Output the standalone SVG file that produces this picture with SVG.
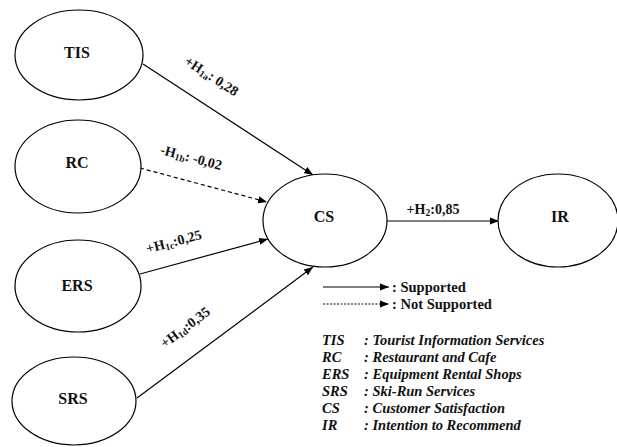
<svg xmlns="http://www.w3.org/2000/svg" width="617" height="447" viewBox="0 0 617 447">
<defs>
<marker id="ah" viewBox="0 0 10 10" refX="10" refY="5" markerWidth="9" markerHeight="9" markerUnits="userSpaceOnUse" orient="auto">
<path d="M0,1 L10,5 L0,9 Z" fill="#000"/>
</marker>
<style>
.n ellipse{fill:#fff;stroke:#000;stroke-width:1.2}
.n text{font-family:"Liberation Serif","Times New Roman",serif;font-weight:bold;font-size:16px;text-anchor:middle;fill:#111}
.c line{stroke:#000;stroke-width:1.2;marker-end:url(#ah)}
.c .d{stroke-dasharray:4,3}
.lbl{font-family:"Liberation Serif","Times New Roman",serif;font-weight:bold;font-size:14px;text-anchor:middle;fill:#111}
.lg{font-family:"Liberation Serif","Times New Roman",serif;font-weight:bold;font-size:14.5px;fill:#111}
.ab{font-family:"Liberation Serif","Times New Roman",serif;font-weight:bold;font-style:italic;font-size:14.5px;fill:#111}
</style>
</defs>
<rect width="617" height="447" fill="#fff"/>
<g class="c" id="connectors">
<line x1="143" y1="64" x2="313" y2="175"/>
<line class="d" x1="140" y1="168" x2="267" y2="202"/>
<line x1="140" y1="274" x2="268" y2="239"/>
<line x1="137" y1="398" x2="313" y2="267"/>
<line x1="387" y1="221" x2="499" y2="221"/>
</g>
<g id="TIS" class="n"><ellipse cx="79" cy="55" rx="64" ry="45"/><text x="77" y="58">TIS</text></g>
<g id="RC" class="n"><ellipse cx="78" cy="166.5" rx="63" ry="46.5"/><text x="77" y="168">RC</text></g>
<g id="ERS" class="n"><ellipse cx="78" cy="286" rx="63" ry="46"/><text x="77" y="291">ERS</text></g>
<g id="SRS" class="n"><ellipse cx="74" cy="401" rx="62" ry="44"/><text x="73" y="404">SRS</text></g>
<g id="CS" class="n"><ellipse cx="325" cy="220.5" rx="62" ry="46.5"/><text x="324" y="222">CS</text></g>
<g id="IR" class="n"><ellipse cx="558" cy="220.5" rx="60" ry="46.5"/><text x="560" y="222">IR</text></g>
<g id="labels">
<text class="lbl" transform="translate(209,80) rotate(33)">+H<tspan font-size="9.5" dy="2">1a</tspan><tspan dy="-2">: 0,28</tspan></text>
<text class="lbl" transform="translate(190,162) rotate(15)">-H<tspan font-size="9.5" dy="2">1b</tspan><tspan dy="-2">: -0,02</tspan></text>
<text class="lbl" transform="translate(175,246) rotate(-15)">+H<tspan font-size="9.5" dy="2">1c</tspan><tspan dy="-2">:0,25</tspan></text>
<text class="lbl" transform="translate(188,331) rotate(-37)">+H<tspan font-size="9.5" dy="2">1d</tspan><tspan dy="-2">:0,35</tspan></text>
<text class="lbl" x="433" y="214">+H<tspan font-size="9.5" dy="2">2</tspan><tspan dy="-2">:0,85</tspan></text>
</g>
<g id="legend">
<line x1="323" y1="287" x2="389" y2="287" stroke="#000" stroke-width="1" marker-end="url(#ah)"/>
<line x1="323" y1="304" x2="389" y2="304" stroke="#000" stroke-width="1" stroke-dasharray="2,1.5" marker-end="url(#ah)"/>
<text class="lg" x="392" y="292">: Supported</text>
<text class="lg" x="392" y="309">: Not Supported</text>
<text class="ab" x="322" y="345">TIS</text><text class="ab" x="364" y="345">: Tourist Information Services</text>
<text class="ab" x="322" y="362">RC</text><text class="ab" x="364" y="362">: Restaurant and Cafe</text>
<text class="ab" x="322" y="379">ERS</text><text class="ab" x="364" y="379">: Equipment Rental Shops</text>
<text class="ab" x="322" y="396">SRS</text><text class="ab" x="364" y="396">: Ski-Run Services</text>
<text class="ab" x="322" y="413">CS</text><text class="ab" x="364" y="413">: Customer Satisfaction</text>
<text class="ab" x="322" y="430">IR</text><text class="ab" x="364" y="430">: Intention to Recommend</text>
</g>
</svg>
